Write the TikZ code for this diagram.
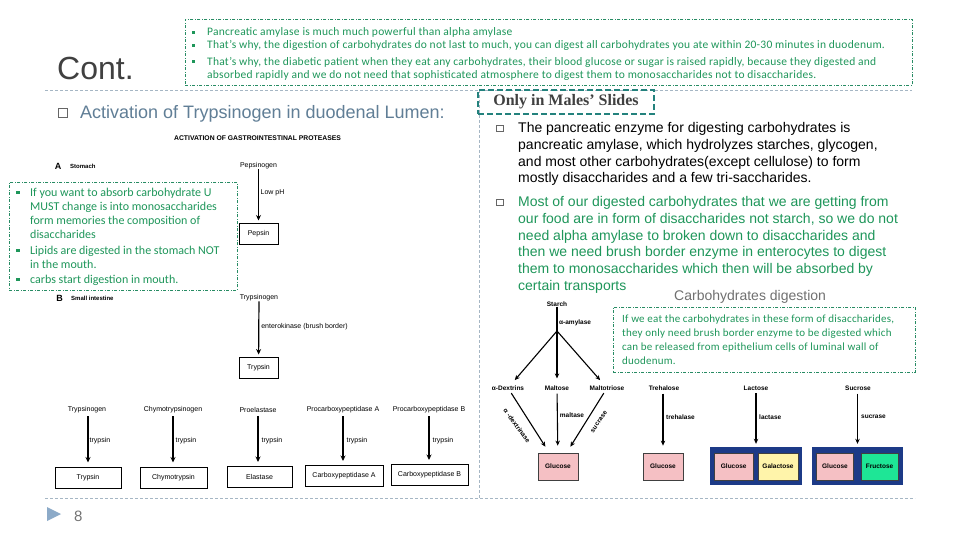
\documentclass[tikz,border=0pt]{standalone}
\usepackage{fontspec}
\setmainfont{Liberation Sans}
\newfontfamily\calfont[LetterSpace=2]{Carlito}
\newfontfamily\calfontn{Carlito}
\newfontfamily\serfont{Liberation Serif}
\usetikzlibrary{arrows.meta}
\definecolor{framegray}{RGB}{165,182,196}
\definecolor{gtext}{RGB}{30,150,90}
\definecolor{gdash}{RGB}{40,140,100}
\definecolor{tealb}{RGB}{35,130,125}
\definecolor{titlegray}{RGB}{64,64,64}
\definecolor{steel}{RGB}{96,126,150}
\definecolor{subgray}{RGB}{112,112,112}
\definecolor{navyb}{RGB}{28,58,135}
\definecolor{pinkb}{RGB}{245,192,196}
\definecolor{yellowb}{RGB}{255,244,170}
\definecolor{greenb}{RGB}{30,230,150}
\definecolor{trib}{RGB}{140,170,200}
\newcommand\tstrut{\rule{0pt}{1em}}
\tikzset{
  frameline/.style={draw=framegray, line width=0.7pt, dash pattern=on 3pt off 2pt},
  gbox/.style={draw=gdash, line width=0.8pt, dash pattern=on 3pt off 1.5pt on 1pt off 1.5pt, inner sep=0, anchor=north west},
  ctext/.style={text=gtext, inner sep=0, anchor=north west, align=left},
  rtext/.style={inner sep=0, anchor=north west, align=left, font=\fontsize{14}{16.7}\selectfont},
  ptxt/.style={inner sep=0, font=\fontsize{7}{8}\selectfont},
  pbox/.style={draw, line width=1pt, minimum height=21pt, inner sep=0, font=\fontsize{7}{8}\selectfont},
  parrow/.style={line width=1.2pt, -{Stealth[length=5.5pt,width=5pt]}},
  ctxt/.style={inner sep=0, font=\fontsize{6.5}{7}\selectfont\bfseries},
  carrow/.style={line width=1.1pt, -{Stealth[length=5pt,width=4.5pt]}},
  sugar/.style={draw=black!75, line width=0.8pt, minimum height=27pt, inner sep=0, font=\fontsize{6.5}{7}\selectfont\bfseries},
  sugarbox/.style={fill=navyb, minimum height=38pt, inner sep=0},
}
\begin{document}
\begin{tikzpicture}[x=1pt,y=-1pt]
\useasboundingbox (0,0) rectangle (960,540);
\fill[white] (0,0) rectangle (960,540);

% slide frame
\coordinate (ftl) at (45,90);
\coordinate (ftr) at (912,90);
\coordinate (fvt) at (479,90);
\coordinate (fvb) at (479,498);
\coordinate (fbl) at (45,498);
\coordinate (fbr) at (915,498);
\draw[frameline] (ftl) -- (ftr);
\draw[frameline] (fvt) -- (fvb);
\draw[frameline] (fbl) -- (fbr);

% title
\node[inner sep=0, anchor=north west, font=\fontsize{32}{36}\selectfont, text=titlegray] (cont) at (57,47) {\tstrut Cont.};

% top green box
\node[gbox, minimum width=727pt, minimum height=66pt] (topbox) at (185,19) {};
\fill[gtext] (192,30.8) rectangle (195,33.8);
\fill[gtext] (192,43.8) rectangle (195,46.8);
\fill[gtext] (192,60.2) rectangle (195,63.2);
\node[ctext, font=\calfont\fontsize{11.5}{13.3}\selectfont] (tb1) at (207,24.3) {\tstrut Pancreatic amylase is much much powerful than alpha amylase};
\node[ctext, font=\calfont\fontsize{11.5}{13.3}\selectfont] (tb2) at (207,37.3) {\tstrut That’s why, the digestion of carbohydrates do not last to much, you can digest all carbohydrates you ate within 20-30 minutes in duodenum.};
\node[ctext, font=\calfont\fontsize{11.5}{13.3}\selectfont] (tb3) at (207,53.7) {\tstrut That’s why, the diabetic patient when they eat any carbohydrates, their blood glucose or sugar is raised rapidly, because they digested and\\absorbed rapidly and we do not need that sophisticated atmosphere to digest them to monosaccharides not to disaccharides.};

% left heading
\draw[draw=black!60, line width=0.6pt] (58.5,108.5) rectangle (67.5,117.5);
\node[inner sep=0, anchor=north west, font=\fontsize{18}{20}\selectfont, text=steel] (act) at (80,100) {\tstrut Activation of Trypsinogen in duodenal Lumen:};

% protease figure
\node[inner sep=0, font=\fontsize{6.8}{8}\selectfont\bfseries] (ptitle) at (257.5,138) {ACTIVATION OF GASTROINTESTINAL PROTEASES};
\node[inner sep=0, font=\fontsize{9}{10}\selectfont\bfseries] (labA) at (58,166) {A};
\node[inner sep=0, anchor=west, font=\fontsize{6}{7}\selectfont\bfseries] (stomach) at (70,166.5) {Stomach};
\node[ptxt] (pepsinogen) at (258.5,166) {Pepsinogen};
\node[pbox, minimum width=39pt] (pepsin) at (258.5,233.5) {Pepsin};
\draw[parrow, shorten >=2pt] (pepsinogen) -- (pepsin);
\node[ptxt] (lowph) at (272.5,193) {Low pH};

\node[inner sep=0, font=\fontsize{9}{10}\selectfont\bfseries] (labB) at (59.5,298) {B};
\node[inner sep=0, anchor=west, font=\fontsize{6}{7}\selectfont\bfseries] (smallint) at (71,298.5) {Small intestine};
\node[ptxt] (trypsinogen0) at (259,298) {Trypsinogen};
\node[pbox, minimum width=39pt] (trypsin0) at (258.5,367.5) {Trypsin};
\draw[parrow, shorten >=2pt] (trypsinogen0) -- (trypsin0);
\node[ptxt] (entero) at (304.5,327) {enterokinase (brush border)};

\node[ptxt] (tg) at (87,410) {Trypsinogen};
\node[pbox, minimum width=66pt] (tbox) at (88,477.5) {Trypsin};
\node[ptxt] (chg) at (173,410) {Chymotrypsinogen};
\node[pbox, minimum width=67pt] (chbox) at (173.5,477.5) {Chymotrypsin};
\node[ptxt] (proel) at (258,410) {Proelastase};
\node[pbox, minimum width=65pt] (elbox) at (259.5,477) {Elastase};
\node[ptxt] (proca) at (343,410) {Procarboxypeptidase A};
\node[pbox, minimum width=78pt] (cabox) at (344,476) {Carboxypeptidase A};
\node[ptxt] (procb) at (429,410) {Procarboxypeptidase B};
\node[pbox, minimum width=77pt] (cbbox) at (429.5,475) {Carboxypeptidase B};
\draw[parrow, shorten >=4pt, shorten <=3pt] (tg.south -| tbox.north) -- (tbox);
\draw[parrow, shorten >=4pt, shorten <=3pt] (chg) -- (chg |- chbox.north);
\draw[parrow, shorten >=4pt, shorten <=3pt] (proel) -- (proel |- elbox.north);
\draw[parrow, shorten >=4pt, shorten <=3pt] (proca) -- (proca |- cabox.north);
\draw[parrow, shorten >=4pt, shorten <=3pt] (procb) -- (procb |- cbbox.north);
\node[ptxt] (tl1) at (100,441) {trypsin};
\node[ptxt] (tl2) at (186,441) {trypsin};
\node[ptxt] (tl3) at (272,441) {trypsin};
\node[ptxt] (tl4) at (357,441) {trypsin};
\node[ptxt] (tl5) at (443,441) {trypsin};

% left green box
\node[gbox, minimum width=228pt, minimum height=108pt, fill=white] (leftbox) at (9,182) {};
\fill[gtext] (16.2,190.5) rectangle (19.7,194);
\fill[gtext] (16.2,248.5) rectangle (19.7,252);
\fill[gtext] (16.2,277.5) rectangle (19.7,281);
\node[ctext, font=\calfontn\fontsize{12}{14}\selectfont] (lb1) at (30,184) {\tstrut If you want to absorb carbohydrate U\\MUST  change is into monosaccharides\\form memories the composition of\\disaccharides};
\node[ctext, font=\calfontn\fontsize{12}{14}\selectfont] (lb2) at (30,242) {\tstrut Lipids are digested in the stomach NOT\\in the mouth.};
\node[ctext, font=\calfontn\fontsize{12}{14}\selectfont] (lb3) at (30,271) {\tstrut carbs start digestion in mouth.};

% right side
\node[draw=tealb, line width=2.2pt, dash pattern=on 6pt off 3pt, minimum width=176pt, minimum height=24pt, inner sep=0, font=\serfont\fontsize{16}{18}\selectfont\bfseries, text=titlegray] (males) at (566,102) {Only in Males’ Slides};

\draw[draw=black!60, line width=0.5pt] (496,125) rectangle (503,131.5);
\draw[draw=black!60, line width=0.5pt] (496,199) rectangle (503,205.5);
\node[rtext] (rb1) at (518,118.5) {\tstrut The pancreatic enzyme for digesting carbohydrates is\\pancreatic amylase, which hydrolyzes starches, glycogen,\\and most other carbohydrates(except cellulose) to form\\mostly disaccharides and a few tri-saccharides.};
\node[rtext, text=gtext] (rb2) at (518,192.5) {\tstrut Most of our digested carbohydrates that we are getting from\\our food are in form of disaccharides not starch, so we do not\\need alpha amylase to broken down to disaccharides and\\then we need brush border enzyme in enterocytes to digest\\them to monosaccharides which then will be absorbed by\\certain transports};
\node[inner sep=0, anchor=north west, font=\fontsize{14}{16}\selectfont, text=subgray] (carbtitle) at (674,286) {\tstrut Carbohydrates digestion};

% carb green box
\node[gbox, minimum width=302pt, minimum height=65pt] (carbbox) at (613,307) {};
\node[ctext, font=\calfont\fontsize{11}{14}\selectfont] (cb) at (622,311.5) {\tstrut If we eat the carbohydrates in these form of disaccharides,\\they only need brush border enzyme to be digested which\\can be released from epithelium cells of luminal wall of\\duodenum.};

% carbohydrate diagram
\node[ctxt] (starch) at (557,304) {Starch};
\coordinate (split) at (557,331);
\draw[line width=1.1pt] (starch) -- (split);
\node[ctxt, anchor=west] (amylase) at (559,323) {α-amylase};
\node[ctxt] (dextrins) at (508,388) {α-Dextrins};
\node[ctxt] (maltose) at (557,388) {Maltose};
\node[ctxt] (maltotriose) at (607,388) {Maltotriose};
\node[ctxt] (trehalose) at (664,388) {Trehalose};
\node[ctxt] (lactose) at (756,388) {Lactose};
\node[ctxt] (sucrose) at (858,388) {Sucrose};
\draw[carrow, shorten >=7pt] (split) -- (dextrins);
\draw[carrow, shorten >=7pt] (split) -- (maltose);
\draw[carrow, shorten >=7pt] (split) -- (maltotriose);

\node[sugar, fill=pinkb, minimum width=40pt] (glu1) at (558,466.5) {Glucose};
\node[sugar, fill=pinkb, minimum width=40pt] (glu2) at (663,466.5) {Glucose};
\node[sugarbox, minimum width=92pt] (lacbox) at (756,466) {};
\node[sugar, fill=pinkb, minimum width=39pt] (glu3) at (733.7,466.5) {Glucose};
\node[sugar, fill=yellowb, minimum width=40pt] (gal) at (778,466.5) {Galactose};
\node[sugarbox, minimum width=91pt] (sucbox) at (857.5,466) {};
\node[sugar, fill=pinkb, minimum width=37pt] (glu4) at (835,466.5) {Glucose};
\node[sugar, fill=greenb, minimum width=37pt] (fru) at (879.5,466.5) {Fructose};

\draw[carrow, shorten >=7pt, shorten <=3pt] (dextrins) -- (glu1);
\draw[carrow, shorten >=7pt, shorten <=3pt] (maltose) -- (glu1);
\draw[carrow, shorten >=7pt, shorten <=3pt] (maltotriose) -- (glu1);
\draw[carrow, shorten >=7pt, shorten <=3pt] (trehalose.south -| glu2.north) -- (glu2);
\draw[carrow, shorten >=3pt, shorten <=3pt] (lactose) -- (lacbox);
\draw[carrow, shorten >=3pt, shorten <=3pt] (sucrose.south -| sucbox.north) -- (sucbox);

\node[ctxt, rotate=-54] (dexase) at (517,426) {α -dextrinase};
\node[ctxt] (maltase) at (572,415) {maltase};
\node[ctxt, rotate=55] (sucrase1) at (599,422) {sucrase};
\node[ctxt, anchor=west] (trehalase) at (666,417) {trehalase};
\node[ctxt, anchor=west] (lactase) at (759,417) {lactase};
\node[ctxt, anchor=west] (sucrase2) at (861,417) {sucrase};

% footer
\fill[trib] (47,507) -- (47,521) -- (61,514) -- cycle;
\node[inner sep=0, anchor=north west, font=\fontsize{15}{17}\selectfont, text=black!55] (pagenum) at (74,506) {\tstrut 8};
\end{tikzpicture}
\end{document}
